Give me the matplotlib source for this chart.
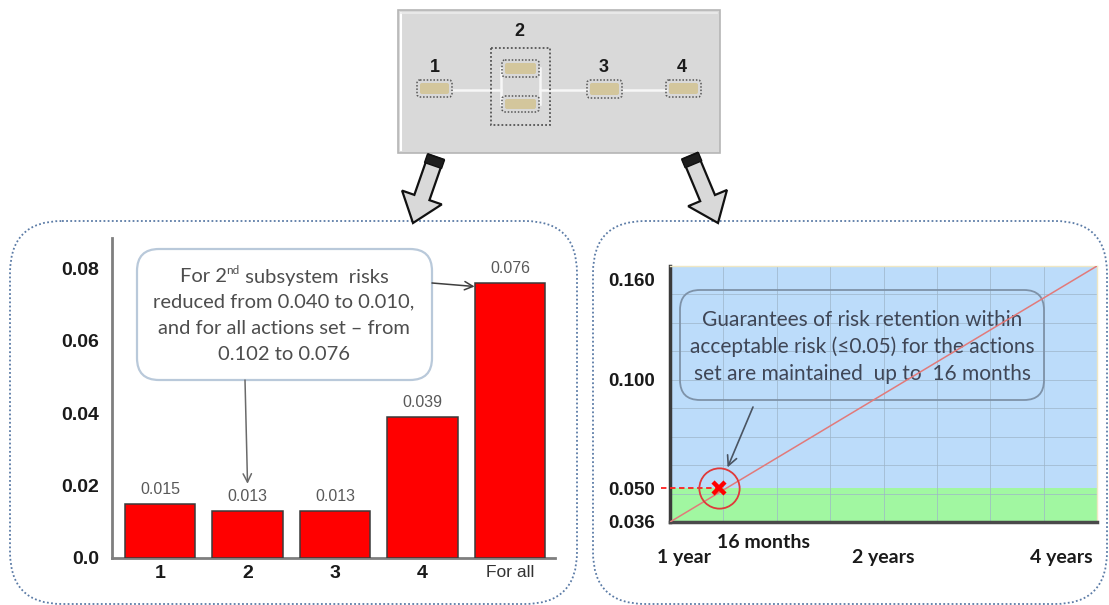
import numpy as np
import matplotlib
matplotlib.use("Agg")
import matplotlib.pyplot as plt
from matplotlib.patches import FancyBboxPatch, Polygon
from matplotlib.lines import Line2D
from matplotlib.transforms import Affine2D, blended_transform_factory

# risk per subsystem after the actions
subsystems = ["1", "2", "3", "4", "For all"]
risks = [0.015, 0.013, 0.013, 0.039, 0.076]

# risk growth over time for the actions set
months = [12, 48]
risk_line = [0.036, 0.166]
limit_month = 16
acceptable_risk = 0.05
risk_ticks = [0.036, 0.050, 0.100, 0.160]
risk_tick_labels = ["0.036", "0.050", "0.100", "0.160"]
time_ticks = [12, 16, 24, 48]
time_tick_labels = ["1 year", "16 months", "2 years", "4 years"]

W, H = 1109, 605
fig = plt.figure(figsize=(W / 100, H / 100), dpi=100, facecolor="white")
# pixel coordinates, origin at the top-left corner
pix = Affine2D().scale(1 / W, -1 / H).translate(0, 1) + fig.transFigure

BOLD = dict(family="Liberation Sans", weight="bold")


def rect_px(x0, y0, x1, y1, **kw):
    p = FancyBboxPatch((x0, y0), x1 - x0, y1 - y0, transform=pix, **kw)
    fig.add_artist(p)
    return p


def line_px(xs, ys, **kw):
    ln = Line2D(xs, ys, transform=pix, **kw)
    fig.add_artist(ln)
    return ln


def block_arrow(p0, p1, shaft=16, head_w=42, head_l=27, cap=9):
    p0, p1 = np.array(p0, float), np.array(p1, float)
    u = (p1 - p0) / np.linalg.norm(p1 - p0)
    n = np.array([-u[1], u[0]])
    b = p1 - u * head_l
    pts = [p0 + n * shaft / 2, b + n * shaft / 2, b + n * head_w / 2, p1,
           b - n * head_w / 2, b - n * shaft / 2, p0 - n * shaft / 2]
    fig.add_artist(Polygon(pts, closed=True, transform=pix, facecolor="#d9d9d9",
                           edgecolor="#111111", lw=1.6, zorder=3))
    c = [p0 + n * (shaft / 2 + 1), p0 + u * cap + n * (shaft / 2 + 1),
         p0 + u * cap - n * (shaft / 2 + 1), p0 - n * (shaft / 2 + 1)]
    fig.add_artist(Polygon(c, closed=True, transform=pix, facecolor="#1e1e1e",
                           edgecolor="#111111", lw=1, zorder=3))


def piecewise(xp, fp):
    # piecewise linear map, extended linearly past both ends
    xp, fp = np.asarray(xp, float), np.asarray(fp, float)
    s0 = (fp[1] - fp[0]) / (xp[1] - xp[0])
    s1 = (fp[-1] - fp[-2]) / (xp[-1] - xp[-2])

    def f(v):
        v = np.asarray(v, float)
        out = np.interp(v, xp, fp)
        out = np.where(v < xp[0], fp[0] + (v - xp[0]) * s0, out)
        return np.where(v > xp[-1], fp[-1] + (v - xp[-1]) * s1, out)
    return f


# --- system structure on top ---
rect_px(398, 10, 720, 153, boxstyle="square,pad=0", facecolor="#d9d9d9",
        edgecolor="#b5b5b5", lw=1.2, zorder=1)
line_px([401, 401], [13, 150], color="white", lw=1.5, zorder=1)
line_px([401, 717], [13, 13], color="#ececec", lw=1.2, zorder=1)

for xs, ys in [([452, 501], [90, 90]), ([540, 587], [90, 90]), ([622, 666], [90, 90]),
               ([501, 501], [68, 104]), ([540, 540], [68, 104])]:
    line_px(xs, ys, color="#f7f7f7", lw=1.8, zorder=2)

rect_px(491, 48, 550, 125, boxstyle="square,pad=0", facecolor="none",
        edgecolor="#555555", lw=1.3, ls=(0, (1, 1.2)), zorder=2)
for x0, y0, x1, y1 in [(417, 80, 452, 97), (502, 60, 539, 77), (502, 96, 539, 112),
                       (587, 80, 622, 98), (666, 80, 701, 97)]:
    rect_px(x0 + 3, y0 + 3, x1 - 3, y1 - 3, boxstyle="round,pad=0,rounding_size=2",
            facecolor="#d3c69c", edgecolor="none", zorder=2)
    rect_px(x0, y0, x1, y1, boxstyle="round,pad=0,rounding_size=3",
            facecolor="none", edgecolor="#555555", lw=1.1, ls=(0, (1, 1.2)), zorder=2)

for lab, x, y in [("1", 435, 67), ("2", 519, 32), ("3", 604, 67), ("4", 682, 67)]:
    fig.text(x, y, lab, transform=pix, ha="center", va="center", fontsize=13,
             color="#1a1a1a", zorder=3, **BOLD)

block_arrow((436, 157), (413, 223))
block_arrow((690, 156), (718, 223))

# --- rounded dotted panels ---
for x0, x1 in [(10, 577), (593, 1107)]:
    rect_px(x0, 221, x1, 604, boxstyle="round,pad=0,rounding_size=52",
            facecolor="none", edgecolor="#5b7ba6", lw=1.3, ls=(0, (1, 1.3)), zorder=2)

# --- bar chart of risks ---
ax1 = fig.add_axes([112 / W, 1 - 558 / H, (555 - 112) / W, (558 - 238) / H])
ax1.set_facecolor("none")
x = np.arange(len(risks))
bar_w = 0.81
bars = ax1.bar(x, risks, width=bar_w, color="#ff0000", edgecolor="#3a3a3a", lw=1.1, zorder=3)
for b in bars:
    ax1.annotate(f"{b.get_height():.3f}", (b.get_x() + b.get_width() / 2, b.get_height()),
                 xytext=(0, 5), textcoords="offset points", ha="center", va="bottom",
                 fontsize=11.5, color="#595959", family="Liberation Sans")
ax1.set_xlim(-0.549, 4.514)
ax1.set_ylim(0, 0.0884)
ax1.set_yticks([0.0, 0.02, 0.04, 0.06, 0.08])
ax1.set_yticklabels(["0.0", "0.02", "0.04", "0.06", "0.08"], fontsize=14, color="#1a1a1a", **BOLD)
ax1.set_xticks(x)
ax1.set_xticklabels(subsystems, fontsize=14, color="#1a1a1a", **BOLD)
last = ax1.get_xticklabels()[-1]
last.set_fontweight("normal")
last.set_fontsize(12.5)
last.set_color("#333333")
ax1.tick_params(length=0, axis="y", pad=9)
ax1.tick_params(length=0, axis="x", pad=5)
for s in ["top", "right"]:
    ax1.spines[s].set_visible(False)
for s in ["left", "bottom"]:
    ax1.spines[s].set_color("#7f7f7f")
    ax1.spines[s].set_linewidth(2)

# callout in the bar chart
box1 = FancyBboxPatch((137, 249), 295, 131, boxstyle="round,pad=0,rounding_size=22",
                      transform=pix, facecolor="white", edgecolor="#b9c9da", lw=1.6,
                      zorder=5, clip_on=False)
ax1.add_patch(box1)

fig.canvas.draw()
renderer = fig.canvas.get_renderer()


def rich_line(ax, cx, cy, parts, **kw):
    # lay pieces left to right, centred on cx (pixels)
    texts = []
    for s, size, dy in parts:
        t = ax.text(0, cy + dy, s, transform=pix, fontsize=size, va="center", ha="left",
                    clip_on=False, **kw)
        texts.append(t)
    widths = [t.get_window_extent(renderer).width for t in texts]
    xpos = cx - sum(widths) / 2
    for t, w in zip(texts, widths):
        t.set_x(xpos)
        xpos += w


txt1 = dict(family="Lato", color="#4d4d4d", zorder=6)
rich_line(ax1, 284, 277, [("For 2", 14.5, 0), ("nd", 8.5, -6), (" subsystem  risks", 14.5, 0)], **txt1)
for s, y in [("reduced from 0.040 to 0.010,", 302), ("and for all actions set \u2013 from", 328),
             ("0.102 to 0.076", 355)]:
    ax1.text(284, y, s, transform=pix, ha="center", va="center", fontsize=14.5,
             clip_on=False, **txt1)

arrow_kw = dict(arrowstyle="->,head_length=0.6,head_width=0.3", color="#3f3f3f", lw=1.1,
                shrinkA=0, shrinkB=0)
ax1.annotate("", xy=(4 - bar_w / 2, risks[4] - 0.001), xytext=(432, 283), textcoords=pix,
             arrowprops=arrow_kw, zorder=6)
ax1.annotate("", xy=(1, risks[1] + 0.0075), xytext=(245, 380), textcoords=pix,
             arrowprops=dict(arrow_kw, color="#6a6a6a"), zorder=6)

# --- risk growth over time (schematic, unevenly spaced axes) ---
ax2 = fig.add_axes([670 / W, 1 - 522 / H, (1097 - 670) / W, (522 - 266) / H])
x_frac = [0, 0.1156, 0.5, 1]
ax2.set_xscale("function", functions=(piecewise(time_ticks, x_frac), piecewise(x_frac, time_ticks)))
y_knots = risk_ticks + [risk_line[-1]]
y_frac = [0, 0.131, 0.555, 0.947, 1]
ax2.set_yscale("function", functions=(piecewise(y_knots, y_frac), piecewise(y_frac, y_knots)))
ax2.set_xlim(months[0], months[-1])
ax2.set_ylim(risk_line[0], risk_line[-1])
ax2.axhspan(risk_line[0], acceptable_risk, color="#a1f7a1", lw=0, zorder=0)
ax2.axhspan(acceptable_risk, risk_line[-1], color="#bcdcfa", lw=0, zorder=0)
for g in np.linspace(0, 1, 9)[1:-1]:
    ax2.plot([g, g], [0, 1], transform=ax2.transAxes, color="#9db4c8", lw=0.7, alpha=0.7, zorder=1)
for g in np.linspace(0, 1, 10)[1:-1]:
    ax2.plot([0, 1], [g, g], transform=ax2.transAxes, color="#9db4c8", lw=0.7, alpha=0.7, zorder=1)

ax2.plot(months, risk_line, color="#e27a7a", lw=1.1, zorder=6)
ax2.plot([months[0] - 0.7, limit_month], [acceptable_risk] * 2, color="#ff2020",
         lw=1.3, ls=(0, (3, 2)), clip_on=False, zorder=5)
ax2.plot(limit_month, acceptable_risk, marker="o", ms=29, mfc="none", mec="#e03a3a",
         mew=1.3, zorder=7, clip_on=False)
ax2.plot(limit_month, acceptable_risk, marker="x", ms=9, mew=3.2, color="#ff0000", zorder=8)

ax2.set_yticks(risk_ticks)
ax2.set_yticklabels(risk_tick_labels, fontsize=13.5, color="#1a1a1a", **BOLD)
ax2.yaxis.set_minor_locator(plt.NullLocator())
ax2.tick_params(axis="y", length=0, pad=11)
ax2.set_xticks([])
ax2.xaxis.set_minor_locator(plt.NullLocator())
xlab = blended_transform_factory(ax2.transData, ax2.transAxes)
xlab_style = {"1 year": (-13, -35, "left"), "16 months": (-2, -20, "left"),
              "2 years": (0, -35, "center"), "4 years": (-4, -35, "right")}
for tx, tl in zip(time_ticks, time_tick_labels):
    dx, dy, ha = xlab_style[tl]
    ax2.annotate(tl, (tx, 0), xycoords=xlab, xytext=(dx * 0.72, dy * 0.72),
                 textcoords="offset points", ha=ha, va="center", fontsize=14,
                 family="Lato", weight="bold", color="#1a1a1a", annotation_clip=False)

ax2.spines["left"].set_color("#3a3a3a")
ax2.spines["left"].set_linewidth(2.5)
ax2.spines["bottom"].set_color("#4a4a4a")
ax2.spines["bottom"].set_linewidth(2.5)
for s in ["top", "right"]:
    ax2.spines[s].set_color("#efe7c4")
    ax2.spines[s].set_linewidth(1)

box2 = FancyBboxPatch((680, 290), 364, 110, boxstyle="round,pad=0,rounding_size=20",
                      transform=pix, facecolor="none", edgecolor="#7e92a8", lw=1.3,
                      zorder=4, clip_on=False)
ax2.add_patch(box2)
txt2 = dict(family=["Lato", "DejaVu Sans"], color="#3f4656", zorder=5)
for s, y in [("Guarantees of risk retention within", 320),
             ("acceptable risk (\u22640.05) for the actions", 347),
             ("set are maintained  up to  16 months", 374)]:
    ax2.text(862, y, s, transform=pix, ha="center", va="center", fontsize=15,
             clip_on=False, **txt2)
ax2.annotate("", xy=(limit_month + 0.4, acceptable_risk + 0.0097), xytext=(753, 407),
             textcoords=pix, zorder=6,
             arrowprops=dict(arrowstyle="->,head_length=0.7,head_width=0.35",
                             color="#4a5462", lw=1.2, shrinkA=0, shrinkB=0))

fig.savefig("out.png", dpi=100, facecolor="white")
